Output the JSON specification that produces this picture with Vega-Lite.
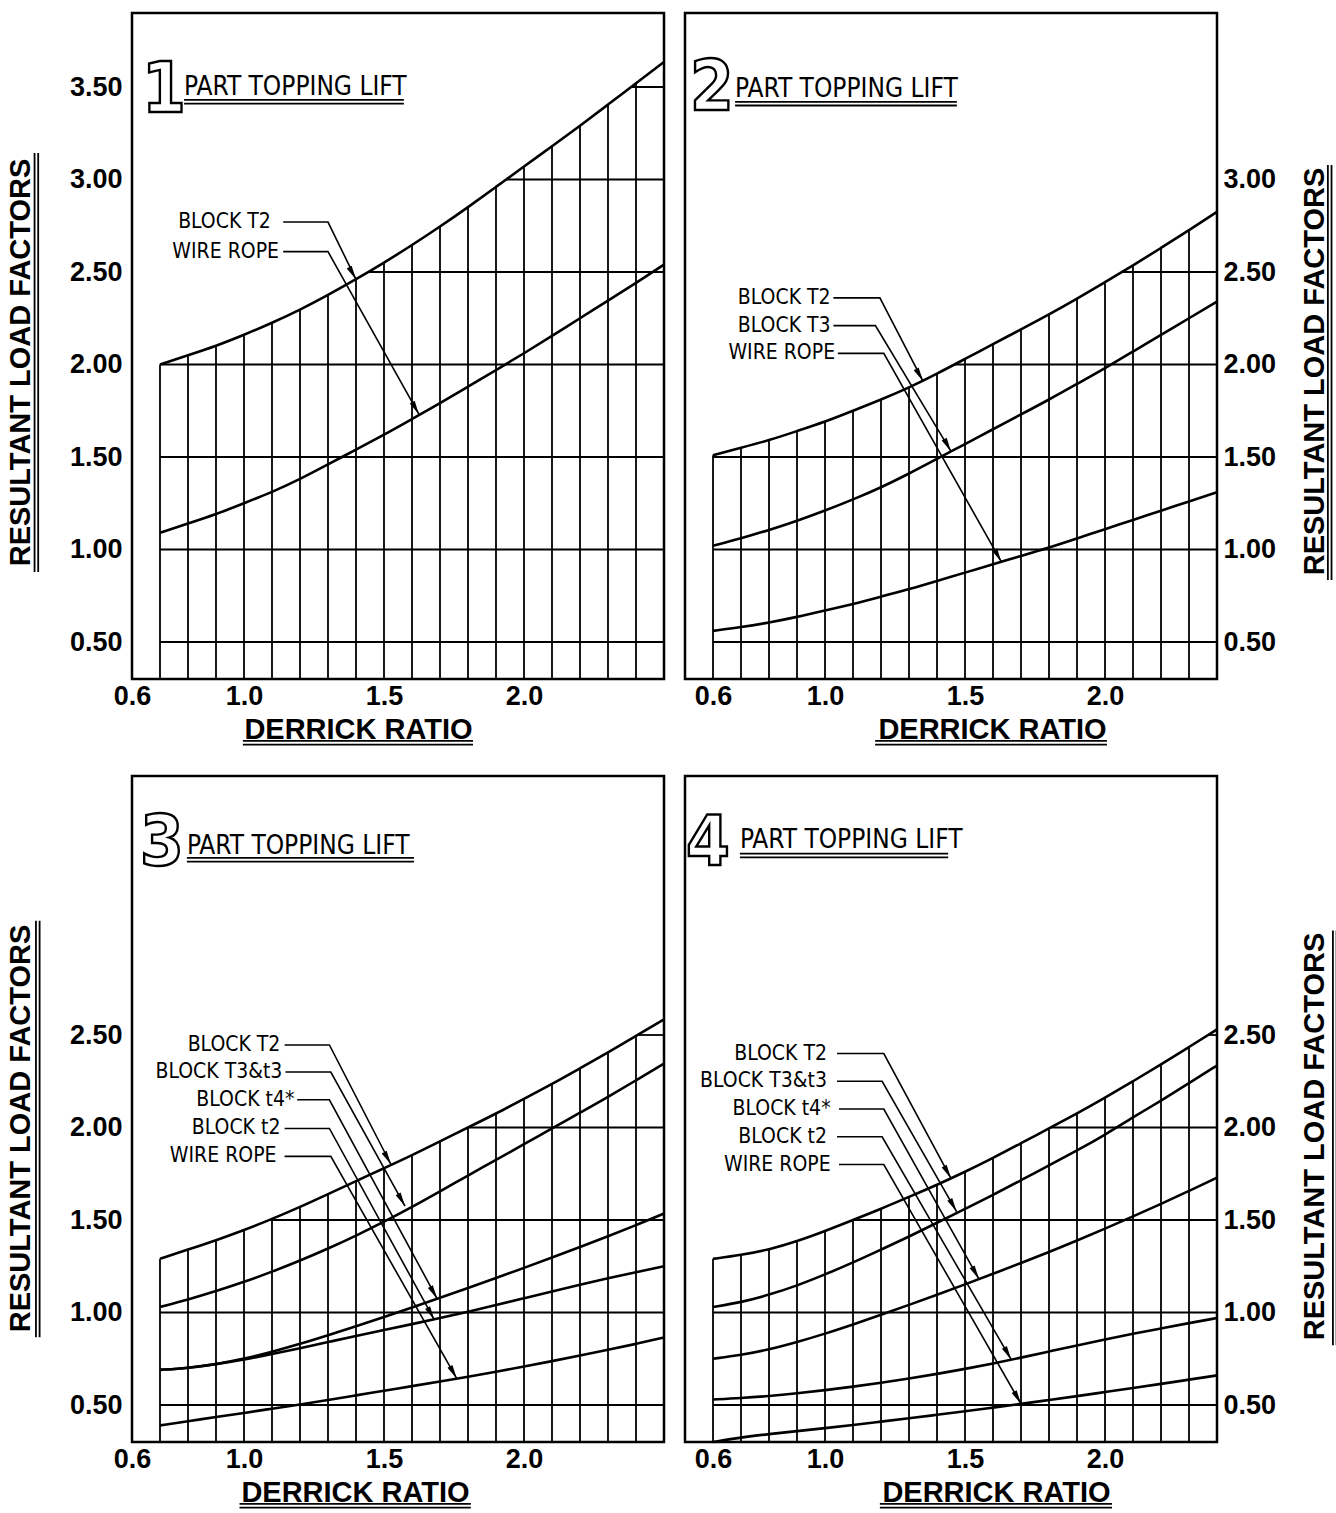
{
"$schema": "https://vega.github.io/schema/vega-lite/v6.json",
"background": "white",
"padding": {"left": 4, "top": 11, "right": 5, "bottom": 5},
"datasets": {
"curves": [
{"panel":1,"series":"T2","x":0.7,"y":2.00},{"panel":1,"series":"T2","x":0.8,"y":2.05},{"panel":1,"series":"T2","x":0.9,"y":2.10},{"panel":1,"series":"T2","x":1.0,"y":2.16},{"panel":1,"series":"T2","x":1.1,"y":2.225},{"panel":1,"series":"T2","x":1.2,"y":2.295},{"panel":1,"series":"T2","x":1.3,"y":2.375},{"panel":1,"series":"T2","x":1.4,"y":2.46},{"panel":1,"series":"T2","x":1.5,"y":2.55},{"panel":1,"series":"T2","x":1.6,"y":2.645},{"panel":1,"series":"T2","x":1.7,"y":2.745},{"panel":1,"series":"T2","x":1.8,"y":2.85},{"panel":1,"series":"T2","x":1.9,"y":2.96},{"panel":1,"series":"T2","x":2.0,"y":3.07},{"panel":1,"series":"T2","x":2.1,"y":3.18},{"panel":1,"series":"T2","x":2.2,"y":3.29},{"panel":1,"series":"T2","x":2.3,"y":3.405},{"panel":1,"series":"T2","x":2.4,"y":3.52},{"panel":1,"series":"T2","x":2.5,"y":3.635},
{"panel":1,"series":"W","x":0.7,"y":1.09},{"panel":1,"series":"W","x":0.8,"y":1.14},{"panel":1,"series":"W","x":0.9,"y":1.19},{"panel":1,"series":"W","x":1.0,"y":1.25},{"panel":1,"series":"W","x":1.1,"y":1.31},{"panel":1,"series":"W","x":1.2,"y":1.38},{"panel":1,"series":"W","x":1.3,"y":1.46},{"panel":1,"series":"W","x":1.4,"y":1.54},{"panel":1,"series":"W","x":1.5,"y":1.62},{"panel":1,"series":"W","x":1.6,"y":1.705},{"panel":1,"series":"W","x":1.7,"y":1.79},{"panel":1,"series":"W","x":1.8,"y":1.88},{"panel":1,"series":"W","x":1.9,"y":1.97},{"panel":1,"series":"W","x":2.0,"y":2.06},{"panel":1,"series":"W","x":2.1,"y":2.155},{"panel":1,"series":"W","x":2.2,"y":2.25},{"panel":1,"series":"W","x":2.3,"y":2.345},{"panel":1,"series":"W","x":2.4,"y":2.44},{"panel":1,"series":"W","x":2.5,"y":2.54},
{"panel":2,"series":"T2","x":0.6,"y":1.51},{"panel":2,"series":"T2","x":0.7,"y":1.55},{"panel":2,"series":"T2","x":0.8,"y":1.59},{"panel":2,"series":"T2","x":0.9,"y":1.64},{"panel":2,"series":"T2","x":1.0,"y":1.69},{"panel":2,"series":"T2","x":1.1,"y":1.75},{"panel":2,"series":"T2","x":1.2,"y":1.81},{"panel":2,"series":"T2","x":1.3,"y":1.875},{"panel":2,"series":"T2","x":1.4,"y":1.95},{"panel":2,"series":"T2","x":1.5,"y":2.03},{"panel":2,"series":"T2","x":1.6,"y":2.11},{"panel":2,"series":"T2","x":1.7,"y":2.19},{"panel":2,"series":"T2","x":1.8,"y":2.27},{"panel":2,"series":"T2","x":1.9,"y":2.355},{"panel":2,"series":"T2","x":2.0,"y":2.445},{"panel":2,"series":"T2","x":2.1,"y":2.535},{"panel":2,"series":"T2","x":2.2,"y":2.63},{"panel":2,"series":"T2","x":2.3,"y":2.725},{"panel":2,"series":"T2","x":2.4,"y":2.825},
{"panel":2,"series":"T3","x":0.6,"y":1.02},{"panel":2,"series":"T3","x":0.7,"y":1.06},{"panel":2,"series":"T3","x":0.8,"y":1.105},{"panel":2,"series":"T3","x":0.9,"y":1.155},{"panel":2,"series":"T3","x":1.0,"y":1.21},{"panel":2,"series":"T3","x":1.1,"y":1.27},{"panel":2,"series":"T3","x":1.2,"y":1.335},{"panel":2,"series":"T3","x":1.3,"y":1.41},{"panel":2,"series":"T3","x":1.4,"y":1.49},{"panel":2,"series":"T3","x":1.5,"y":1.57},{"panel":2,"series":"T3","x":1.6,"y":1.65},{"panel":2,"series":"T3","x":1.7,"y":1.73},{"panel":2,"series":"T3","x":1.8,"y":1.81},{"panel":2,"series":"T3","x":1.9,"y":1.895},{"panel":2,"series":"T3","x":2.0,"y":1.98},{"panel":2,"series":"T3","x":2.1,"y":2.07},{"panel":2,"series":"T3","x":2.2,"y":2.16},{"panel":2,"series":"T3","x":2.3,"y":2.25},{"panel":2,"series":"T3","x":2.4,"y":2.34},
{"panel":2,"series":"W","x":0.6,"y":0.56},{"panel":2,"series":"W","x":0.7,"y":0.58},{"panel":2,"series":"W","x":0.8,"y":0.605},{"panel":2,"series":"W","x":0.9,"y":0.635},{"panel":2,"series":"W","x":1.0,"y":0.67},{"panel":2,"series":"W","x":1.1,"y":0.705},{"panel":2,"series":"W","x":1.2,"y":0.745},{"panel":2,"series":"W","x":1.3,"y":0.785},{"panel":2,"series":"W","x":1.4,"y":0.83},{"panel":2,"series":"W","x":1.5,"y":0.875},{"panel":2,"series":"W","x":1.6,"y":0.92},{"panel":2,"series":"W","x":1.7,"y":0.965},{"panel":2,"series":"W","x":1.8,"y":1.01},{"panel":2,"series":"W","x":1.9,"y":1.06},{"panel":2,"series":"W","x":2.0,"y":1.11},{"panel":2,"series":"W","x":2.1,"y":1.16},{"panel":2,"series":"W","x":2.2,"y":1.21},{"panel":2,"series":"W","x":2.3,"y":1.26},{"panel":2,"series":"W","x":2.4,"y":1.31},
{"panel":3,"series":"T2","x":0.7,"y":1.29},{"panel":3,"series":"T2","x":0.8,"y":1.34},{"panel":3,"series":"T2","x":0.9,"y":1.39},{"panel":3,"series":"T2","x":1.0,"y":1.445},{"panel":3,"series":"T2","x":1.1,"y":1.505},{"panel":3,"series":"T2","x":1.2,"y":1.57},{"panel":3,"series":"T2","x":1.3,"y":1.64},{"panel":3,"series":"T2","x":1.4,"y":1.71},{"panel":3,"series":"T2","x":1.5,"y":1.78},{"panel":3,"series":"T2","x":1.6,"y":1.85},{"panel":3,"series":"T2","x":1.7,"y":1.925},{"panel":3,"series":"T2","x":1.8,"y":2.00},{"panel":3,"series":"T2","x":1.9,"y":2.075},{"panel":3,"series":"T2","x":2.0,"y":2.155},{"panel":3,"series":"T2","x":2.1,"y":2.235},{"panel":3,"series":"T2","x":2.2,"y":2.32},{"panel":3,"series":"T2","x":2.3,"y":2.405},{"panel":3,"series":"T2","x":2.4,"y":2.495},{"panel":3,"series":"T2","x":2.5,"y":2.585},
{"panel":3,"series":"T3","x":0.7,"y":1.03},{"panel":3,"series":"T3","x":0.8,"y":1.07},{"panel":3,"series":"T3","x":0.9,"y":1.115},{"panel":3,"series":"T3","x":1.0,"y":1.165},{"panel":3,"series":"T3","x":1.1,"y":1.22},{"panel":3,"series":"T3","x":1.2,"y":1.28},{"panel":3,"series":"T3","x":1.3,"y":1.345},{"panel":3,"series":"T3","x":1.4,"y":1.415},{"panel":3,"series":"T3","x":1.5,"y":1.49},{"panel":3,"series":"T3","x":1.6,"y":1.57},{"panel":3,"series":"T3","x":1.7,"y":1.655},{"panel":3,"series":"T3","x":1.8,"y":1.74},{"panel":3,"series":"T3","x":1.9,"y":1.825},{"panel":3,"series":"T3","x":2.0,"y":1.91},{"panel":3,"series":"T3","x":2.1,"y":1.995},{"panel":3,"series":"T3","x":2.2,"y":2.08},{"panel":3,"series":"T3","x":2.3,"y":2.165},{"panel":3,"series":"T3","x":2.4,"y":2.255},{"panel":3,"series":"T3","x":2.5,"y":2.345},
{"panel":3,"series":"t4","x":0.7,"y":0.69},{"panel":3,"series":"t4","x":0.8,"y":0.70},{"panel":3,"series":"t4","x":0.9,"y":0.72},{"panel":3,"series":"t4","x":1.0,"y":0.75},{"panel":3,"series":"t4","x":1.1,"y":0.787},{"panel":3,"series":"t4","x":1.2,"y":0.83},{"panel":3,"series":"t4","x":1.3,"y":0.877},{"panel":3,"series":"t4","x":1.4,"y":0.926},{"panel":3,"series":"t4","x":1.5,"y":0.976},{"panel":3,"series":"t4","x":1.6,"y":1.027},{"panel":3,"series":"t4","x":1.7,"y":1.079},{"panel":3,"series":"t4","x":1.8,"y":1.132},{"panel":3,"series":"t4","x":1.9,"y":1.186},{"panel":3,"series":"t4","x":2.0,"y":1.241},{"panel":3,"series":"t4","x":2.1,"y":1.297},{"panel":3,"series":"t4","x":2.2,"y":1.354},{"panel":3,"series":"t4","x":2.3,"y":1.412},{"panel":3,"series":"t4","x":2.4,"y":1.472},{"panel":3,"series":"t4","x":2.5,"y":1.535},
{"panel":3,"series":"t2","x":0.7,"y":0.69},{"panel":3,"series":"t2","x":0.8,"y":0.70},{"panel":3,"series":"t2","x":0.9,"y":0.72},{"panel":3,"series":"t2","x":1.0,"y":0.745},{"panel":3,"series":"t2","x":1.1,"y":0.775},{"panel":3,"series":"t2","x":1.2,"y":0.807},{"panel":3,"series":"t2","x":1.3,"y":0.84},{"panel":3,"series":"t2","x":1.4,"y":0.873},{"panel":3,"series":"t2","x":1.5,"y":0.905},{"panel":3,"series":"t2","x":1.6,"y":0.937},{"panel":3,"series":"t2","x":1.7,"y":0.97},{"panel":3,"series":"t2","x":1.8,"y":1.004},{"panel":3,"series":"t2","x":1.9,"y":1.04},{"panel":3,"series":"t2","x":2.0,"y":1.077},{"panel":3,"series":"t2","x":2.1,"y":1.114},{"panel":3,"series":"t2","x":2.2,"y":1.15},{"panel":3,"series":"t2","x":2.3,"y":1.185},{"panel":3,"series":"t2","x":2.4,"y":1.218},{"panel":3,"series":"t2","x":2.5,"y":1.25},
{"panel":3,"series":"W","x":0.7,"y":0.39},{"panel":3,"series":"W","x":0.8,"y":0.412},{"panel":3,"series":"W","x":0.9,"y":0.435},{"panel":3,"series":"W","x":1.0,"y":0.457},{"panel":3,"series":"W","x":1.1,"y":0.48},{"panel":3,"series":"W","x":1.2,"y":0.503},{"panel":3,"series":"W","x":1.3,"y":0.527},{"panel":3,"series":"W","x":1.4,"y":0.552},{"panel":3,"series":"W","x":1.5,"y":0.577},{"panel":3,"series":"W","x":1.6,"y":0.602},{"panel":3,"series":"W","x":1.7,"y":0.627},{"panel":3,"series":"W","x":1.8,"y":0.653},{"panel":3,"series":"W","x":1.9,"y":0.68},{"panel":3,"series":"W","x":2.0,"y":0.708},{"panel":3,"series":"W","x":2.1,"y":0.737},{"panel":3,"series":"W","x":2.2,"y":0.767},{"panel":3,"series":"W","x":2.3,"y":0.798},{"panel":3,"series":"W","x":2.4,"y":0.83},{"panel":3,"series":"W","x":2.5,"y":0.865},
{"panel":4,"series":"T2","x":0.6,"y":1.29},{"panel":4,"series":"T2","x":0.7,"y":1.31},{"panel":4,"series":"T2","x":0.8,"y":1.34},{"panel":4,"series":"T2","x":0.9,"y":1.385},{"panel":4,"series":"T2","x":1.0,"y":1.44},{"panel":4,"series":"T2","x":1.1,"y":1.50},{"panel":4,"series":"T2","x":1.2,"y":1.56},{"panel":4,"series":"T2","x":1.3,"y":1.625},{"panel":4,"series":"T2","x":1.4,"y":1.69},{"panel":4,"series":"T2","x":1.5,"y":1.76},{"panel":4,"series":"T2","x":1.6,"y":1.835},{"panel":4,"series":"T2","x":1.7,"y":1.915},{"panel":4,"series":"T2","x":1.8,"y":1.995},{"panel":4,"series":"T2","x":1.9,"y":2.075},{"panel":4,"series":"T2","x":2.0,"y":2.16},{"panel":4,"series":"T2","x":2.1,"y":2.25},{"panel":4,"series":"T2","x":2.2,"y":2.34},{"panel":4,"series":"T2","x":2.3,"y":2.435},{"panel":4,"series":"T2","x":2.4,"y":2.53},
{"panel":4,"series":"T3","x":0.6,"y":1.03},{"panel":4,"series":"T3","x":0.7,"y":1.055},{"panel":4,"series":"T3","x":0.8,"y":1.095},{"panel":4,"series":"T3","x":0.9,"y":1.145},{"panel":4,"series":"T3","x":1.0,"y":1.205},{"panel":4,"series":"T3","x":1.1,"y":1.27},{"panel":4,"series":"T3","x":1.2,"y":1.34},{"panel":4,"series":"T3","x":1.3,"y":1.41},{"panel":4,"series":"T3","x":1.4,"y":1.485},{"panel":4,"series":"T3","x":1.5,"y":1.56},{"panel":4,"series":"T3","x":1.6,"y":1.635},{"panel":4,"series":"T3","x":1.7,"y":1.715},{"panel":4,"series":"T3","x":1.8,"y":1.795},{"panel":4,"series":"T3","x":1.9,"y":1.875},{"panel":4,"series":"T3","x":2.0,"y":1.96},{"panel":4,"series":"T3","x":2.1,"y":2.055},{"panel":4,"series":"T3","x":2.2,"y":2.145},{"panel":4,"series":"T3","x":2.3,"y":2.24},{"panel":4,"series":"T3","x":2.4,"y":2.335},
{"panel":4,"series":"t4","x":0.6,"y":0.75},{"panel":4,"series":"t4","x":0.7,"y":0.77},{"panel":4,"series":"t4","x":0.8,"y":0.80},{"panel":4,"series":"t4","x":0.9,"y":0.84},{"panel":4,"series":"t4","x":1.0,"y":0.885},{"panel":4,"series":"t4","x":1.1,"y":0.935},{"panel":4,"series":"t4","x":1.2,"y":0.987},{"panel":4,"series":"t4","x":1.3,"y":1.041},{"panel":4,"series":"t4","x":1.4,"y":1.096},{"panel":4,"series":"t4","x":1.5,"y":1.152},{"panel":4,"series":"t4","x":1.6,"y":1.209},{"panel":4,"series":"t4","x":1.7,"y":1.267},{"panel":4,"series":"t4","x":1.8,"y":1.327},{"panel":4,"series":"t4","x":1.9,"y":1.389},{"panel":4,"series":"t4","x":2.0,"y":1.453},{"panel":4,"series":"t4","x":2.1,"y":1.519},{"panel":4,"series":"t4","x":2.2,"y":1.587},{"panel":4,"series":"t4","x":2.3,"y":1.657},{"panel":4,"series":"t4","x":2.4,"y":1.729},
{"panel":4,"series":"t2","x":0.6,"y":0.53},{"panel":4,"series":"t2","x":0.7,"y":0.537},{"panel":4,"series":"t2","x":0.8,"y":0.548},{"panel":4,"series":"t2","x":0.9,"y":0.563},{"panel":4,"series":"t2","x":1.0,"y":0.58},{"panel":4,"series":"t2","x":1.1,"y":0.599},{"panel":4,"series":"t2","x":1.2,"y":0.62},{"panel":4,"series":"t2","x":1.3,"y":0.643},{"panel":4,"series":"t2","x":1.4,"y":0.668},{"panel":4,"series":"t2","x":1.5,"y":0.695},{"panel":4,"series":"t2","x":1.6,"y":0.724},{"panel":4,"series":"t2","x":1.7,"y":0.756},{"panel":4,"series":"t2","x":1.8,"y":0.789},{"panel":4,"series":"t2","x":1.9,"y":0.822},{"panel":4,"series":"t2","x":2.0,"y":0.854},{"panel":4,"series":"t2","x":2.1,"y":0.885},{"panel":4,"series":"t2","x":2.2,"y":0.914},{"panel":4,"series":"t2","x":2.3,"y":0.943},{"panel":4,"series":"t2","x":2.4,"y":0.97},
{"panel":4,"series":"W","x":0.6,"y":0.30},{"panel":4,"series":"W","x":0.7,"y":0.325},{"panel":4,"series":"W","x":0.8,"y":0.343},{"panel":4,"series":"W","x":0.9,"y":0.359},{"panel":4,"series":"W","x":1.0,"y":0.375},{"panel":4,"series":"W","x":1.1,"y":0.392},{"panel":4,"series":"W","x":1.2,"y":0.41},{"panel":4,"series":"W","x":1.3,"y":0.428},{"panel":4,"series":"W","x":1.4,"y":0.447},{"panel":4,"series":"W","x":1.5,"y":0.466},{"panel":4,"series":"W","x":1.6,"y":0.486},{"panel":4,"series":"W","x":1.7,"y":0.506},{"panel":4,"series":"W","x":1.8,"y":0.527},{"panel":4,"series":"W","x":1.9,"y":0.548},{"panel":4,"series":"W","x":2.0,"y":0.57},{"panel":4,"series":"W","x":2.1,"y":0.592},{"panel":4,"series":"W","x":2.2,"y":0.614},{"panel":4,"series":"W","x":2.3,"y":0.637},{"panel":4,"series":"W","x":2.4,"y":0.66}
],
"vgrid": [
{"panel":1,"x":0.7,"ytop":2.00},{"panel":1,"x":0.8,"ytop":2.05},{"panel":1,"x":0.9,"ytop":2.10},{"panel":1,"x":1.0,"ytop":2.16},{"panel":1,"x":1.1,"ytop":2.225},{"panel":1,"x":1.2,"ytop":2.295},{"panel":1,"x":1.3,"ytop":2.375},{"panel":1,"x":1.4,"ytop":2.46},{"panel":1,"x":1.5,"ytop":2.55},{"panel":1,"x":1.6,"ytop":2.645},{"panel":1,"x":1.7,"ytop":2.745},{"panel":1,"x":1.8,"ytop":2.85},{"panel":1,"x":1.9,"ytop":2.96},{"panel":1,"x":2.0,"ytop":3.07},{"panel":1,"x":2.1,"ytop":3.18},{"panel":1,"x":2.2,"ytop":3.29},{"panel":1,"x":2.3,"ytop":3.405},{"panel":1,"x":2.4,"ytop":3.52},
{"panel":2,"x":0.6,"ytop":1.51},{"panel":2,"x":0.7,"ytop":1.55},{"panel":2,"x":0.8,"ytop":1.59},{"panel":2,"x":0.9,"ytop":1.64},{"panel":2,"x":1.0,"ytop":1.69},{"panel":2,"x":1.1,"ytop":1.75},{"panel":2,"x":1.2,"ytop":1.81},{"panel":2,"x":1.3,"ytop":1.875},{"panel":2,"x":1.4,"ytop":1.95},{"panel":2,"x":1.5,"ytop":2.03},{"panel":2,"x":1.6,"ytop":2.11},{"panel":2,"x":1.7,"ytop":2.19},{"panel":2,"x":1.8,"ytop":2.27},{"panel":2,"x":1.9,"ytop":2.355},{"panel":2,"x":2.0,"ytop":2.445},{"panel":2,"x":2.1,"ytop":2.535},{"panel":2,"x":2.2,"ytop":2.63},{"panel":2,"x":2.3,"ytop":2.725},
{"panel":3,"x":0.7,"ytop":1.29},{"panel":3,"x":0.8,"ytop":1.34},{"panel":3,"x":0.9,"ytop":1.39},{"panel":3,"x":1.0,"ytop":1.445},{"panel":3,"x":1.1,"ytop":1.505},{"panel":3,"x":1.2,"ytop":1.57},{"panel":3,"x":1.3,"ytop":1.64},{"panel":3,"x":1.4,"ytop":1.71},{"panel":3,"x":1.5,"ytop":1.78},{"panel":3,"x":1.6,"ytop":1.85},{"panel":3,"x":1.7,"ytop":1.925},{"panel":3,"x":1.8,"ytop":2.00},{"panel":3,"x":1.9,"ytop":2.075},{"panel":3,"x":2.0,"ytop":2.155},{"panel":3,"x":2.1,"ytop":2.235},{"panel":3,"x":2.2,"ytop":2.32},{"panel":3,"x":2.3,"ytop":2.405},{"panel":3,"x":2.4,"ytop":2.495},
{"panel":4,"x":0.6,"ytop":1.29},{"panel":4,"x":0.7,"ytop":1.31},{"panel":4,"x":0.8,"ytop":1.34},{"panel":4,"x":0.9,"ytop":1.385},{"panel":4,"x":1.0,"ytop":1.44},{"panel":4,"x":1.1,"ytop":1.50},{"panel":4,"x":1.2,"ytop":1.56},{"panel":4,"x":1.3,"ytop":1.625},{"panel":4,"x":1.4,"ytop":1.69},{"panel":4,"x":1.5,"ytop":1.76},{"panel":4,"x":1.6,"ytop":1.835},{"panel":4,"x":1.7,"ytop":1.915},{"panel":4,"x":1.8,"ytop":1.995},{"panel":4,"x":1.9,"ytop":2.075},{"panel":4,"x":2.0,"ytop":2.16},{"panel":4,"x":2.1,"ytop":2.25},{"panel":4,"x":2.2,"ytop":2.34},{"panel":4,"x":2.3,"ytop":2.435}
],
"hgrid": [
{"panel":1,"y":0.5,"x":0.7},{"panel":1,"y":1.0,"x":0.7},{"panel":1,"y":1.5,"x":0.7},{"panel":1,"y":2.0,"x":0.7},{"panel":1,"y":2.5,"x":1.443},{"panel":1,"y":3.0,"x":1.936},{"panel":1,"y":3.5,"x":2.383},
{"panel":2,"y":0.5,"x":0.6},{"panel":2,"y":1.0,"x":0.6},{"panel":2,"y":1.5,"x":0.6},{"panel":2,"y":2.0,"x":1.462},{"panel":2,"y":2.5,"x":2.061},
{"panel":3,"y":0.5,"x":0.7},{"panel":3,"y":1.0,"x":0.7},{"panel":3,"y":1.5,"x":1.092},{"panel":3,"y":2.0,"x":1.8},{"panel":3,"y":2.5,"x":2.405},
{"panel":4,"y":0.5,"x":0.6},{"panel":4,"y":1.0,"x":0.6},{"panel":4,"y":1.5,"x":1.1},{"panel":4,"y":2.0,"x":1.806},{"panel":4,"y":2.5,"x":2.368}
],
"leaders": [
{"panel":1,"label":"BLOCK T2","step":1,"x":1.14,"y":2.77},{"panel":1,"label":"BLOCK T2","step":2,"x":1.30,"y":2.77},{"panel":1,"label":"BLOCK T2","step":3,"x":1.40,"y":2.46},
{"panel":1,"label":"WIRE ROPE","step":1,"x":1.14,"y":2.61},{"panel":1,"label":"WIRE ROPE","step":2,"x":1.30,"y":2.61},{"panel":1,"label":"WIRE ROPE","step":3,"x":1.625,"y":1.73},
{"panel":2,"label":"BLOCK T2","step":1,"x":1.03,"y":2.36},{"panel":2,"label":"BLOCK T2","step":2,"x":1.196,"y":2.36},{"panel":2,"label":"BLOCK T2","step":3,"x":1.35,"y":1.91},
{"panel":2,"label":"BLOCK T3","step":1,"x":1.03,"y":2.21},{"panel":2,"label":"BLOCK T3","step":2,"x":1.18,"y":2.21},{"panel":2,"label":"BLOCK T3","step":3,"x":1.45,"y":1.53},
{"panel":2,"label":"WIRE ROPE","step":1,"x":1.046,"y":2.06},{"panel":2,"label":"WIRE ROPE","step":2,"x":1.21,"y":2.06},{"panel":2,"label":"WIRE ROPE","step":3,"x":1.63,"y":0.933},
{"panel":3,"label":"BLOCK T2","step":1,"x":1.145,"y":2.446},{"panel":3,"label":"BLOCK T2","step":2,"x":1.305,"y":2.446},{"panel":3,"label":"BLOCK T2","step":3,"x":1.525,"y":1.80},
{"panel":3,"label":"BLOCK T3&t3","step":1,"x":1.148,"y":2.30},{"panel":3,"label":"BLOCK T3&t3","step":2,"x":1.31,"y":2.30},{"panel":3,"label":"BLOCK T3&t3","step":3,"x":1.575,"y":1.575},
{"panel":3,"label":"BLOCK t4*","step":1,"x":1.19,"y":2.15},{"panel":3,"label":"BLOCK t4*","step":2,"x":1.305,"y":2.15},{"panel":3,"label":"BLOCK t4*","step":3,"x":1.69,"y":1.074},
{"panel":3,"label":"BLOCK t2","step":1,"x":1.145,"y":1.995},{"panel":3,"label":"BLOCK t2","step":2,"x":1.305,"y":1.995},{"panel":3,"label":"BLOCK t2","step":3,"x":1.68,"y":0.96},
{"panel":3,"label":"WIRE ROPE","step":1,"x":1.145,"y":1.844},{"panel":3,"label":"WIRE ROPE","step":2,"x":1.31,"y":1.844},{"panel":3,"label":"WIRE ROPE","step":3,"x":1.76,"y":0.643},
{"panel":4,"label":"BLOCK T2","step":1,"x":1.043,"y":2.40},{"panel":4,"label":"BLOCK T2","step":2,"x":1.21,"y":2.40},{"panel":4,"label":"BLOCK T2","step":3,"x":1.45,"y":1.725},
{"panel":4,"label":"BLOCK T3&t3","step":1,"x":1.043,"y":2.25},{"panel":4,"label":"BLOCK T3&t3","step":2,"x":1.204,"y":2.25},{"panel":4,"label":"BLOCK T3&t3","step":3,"x":1.47,"y":1.545},
{"panel":4,"label":"BLOCK t4*","step":1,"x":1.05,"y":2.10},{"panel":4,"label":"BLOCK t4*","step":2,"x":1.21,"y":2.10},{"panel":4,"label":"BLOCK t4*","step":3,"x":1.55,"y":1.18},
{"panel":4,"label":"BLOCK t2","step":1,"x":1.043,"y":1.95},{"panel":4,"label":"BLOCK t2","step":2,"x":1.204,"y":1.95},{"panel":4,"label":"BLOCK t2","step":3,"x":1.665,"y":0.745},
{"panel":4,"label":"WIRE ROPE","step":1,"x":1.05,"y":1.80},{"panel":4,"label":"WIRE ROPE","step":2,"x":1.21,"y":1.80},{"panel":4,"label":"WIRE ROPE","step":3,"x":1.70,"y":0.506}
],
"notes": [
{"panel":1,"text":"BLOCK T2","x":1.096,"y":2.77},{"panel":1,"text":"WIRE ROPE","x":1.125,"y":2.61},
{"panel":2,"text":"BLOCK T2","x":1.02,"y":2.36},{"panel":2,"text":"BLOCK T3","x":1.02,"y":2.21},{"panel":2,"text":"WIRE ROPE","x":1.036,"y":2.06},
{"panel":3,"text":"BLOCK T2","x":1.13,"y":2.446},{"panel":3,"text":"BLOCK T3&t3","x":1.137,"y":2.30},{"panel":3,"text":"BLOCK t4*","x":1.18,"y":2.15},{"panel":3,"text":"BLOCK t2","x":1.13,"y":1.995},{"panel":3,"text":"WIRE ROPE","x":1.116,"y":1.844},
{"panel":4,"text":"BLOCK T2","x":1.007,"y":2.40},{"panel":4,"text":"BLOCK T3&t3","x":1.007,"y":2.25},{"panel":4,"text":"BLOCK t4*","x":1.02,"y":2.10},{"panel":4,"text":"BLOCK t2","x":1.007,"y":1.95},{"panel":4,"text":"WIRE ROPE","x":1.02,"y":1.80}
],
"heads": [
{"panel":1,"num":"1","nx":0.714,"ny":3.365,"text":"PART TOPPING LIFT","x":0.786,"y":3.457},
{"panel":2,"num":"2","nx":0.596,"ny":3.376,"text":"PART TOPPING LIFT","x":0.679,"y":3.446},
{"panel":3,"num":"3","nx":0.707,"ny":3.42,"text":"PART TOPPING LIFT","x":0.796,"y":3.48},
{"panel":4,"num":"4","nx":0.582,"ny":3.42,"text":"PART TOPPING LIFT","x":0.696,"y":3.51}
],
"ulines": [
{"panel":1,"x":0.786,"x2":1.571,"y":3.43,"y2":3.43},{"panel":1,"x":0.786,"x2":1.571,"y":3.41,"y2":3.41},
{"panel":2,"x":0.679,"x2":1.471,"y":3.42,"y2":3.42},{"panel":2,"x":0.679,"x2":1.471,"y":3.40,"y2":3.40},
{"panel":3,"x":0.796,"x2":1.607,"y":3.457,"y2":3.457},{"panel":3,"x":0.796,"x2":1.607,"y":3.437,"y2":3.437},
{"panel":4,"x":0.696,"x2":1.44,"y":3.48,"y2":3.48},{"panel":4,"x":0.696,"x2":1.44,"y":3.46,"y2":3.46},
{"panel":1,"x":0.996,"x2":1.818,"y":-0.035,"y2":-0.035},{"panel":1,"x":0.996,"x2":1.818,"y":-0.055,"y2":-0.055},
{"panel":2,"x":1.179,"x2":2.007,"y":-0.035,"y2":-0.035},{"panel":2,"x":1.179,"x2":2.007,"y":-0.055,"y2":-0.055},
{"panel":3,"x":0.984,"x2":1.81,"y":-0.035,"y2":-0.035},{"panel":3,"x":0.984,"x2":1.81,"y":-0.055,"y2":-0.055},
{"panel":4,"x":1.196,"x2":2.025,"y":-0.035,"y2":-0.035},{"panel":4,"x":1.196,"x2":2.025,"y":-0.055,"y2":-0.055},
{"panel":1,"x":0.252,"x2":0.252,"y":0.878,"y2":3.143},{"panel":1,"x":0.265,"x2":0.265,"y":0.878,"y2":3.143},
{"panel":2,"x":2.796,"x2":2.796,"y":0.835,"y2":3.078},{"panel":2,"x":2.809,"x2":2.809,"y":0.835,"y2":3.078},
{"panel":3,"x":0.257,"x2":0.257,"y":0.866,"y2":3.118},{"panel":3,"x":0.270,"x2":0.270,"y":0.866,"y2":3.118},
{"panel":4,"x":2.814,"x2":2.814,"y":0.823,"y2":3.065},{"panel":4,"x":2.827,"x2":2.827,"y":0.823,"y2":3.065}
]
},
"concat": [
{
"width": 532, "height": 666,
"encoding": {
"x": {"field": "x", "type": "quantitative", "scale": {"domain": [0.6, 2.5], "nice": false, "zero": false}, "axis": {"values": [0.6, 1.0, 1.5, 2.0], "format": ".1f", "title": "DERRICK RATIO", "titleX": 226, "titleY": 50, "titleBaseline": "middle", "titleAlign": "center"}},
"y": {"field": "y", "type": "quantitative", "scale": {"domain": [0.3, 3.9], "nice": false, "zero": false}, "axis": {"orient": "left", "values": [0.5, 1.0, 1.5, 2.0, 2.5, 3.0, 3.5], "format": ".2f", "title": "RESULTANT LOAD FACTORS", "titleX": -112, "titleY": 349, "titleAngle": 270, "titleBaseline": "middle", "titleAlign": "center"}}
},
"layer": [
{"data": {"name": "vgrid"}, "transform": [{"filter": "datum.panel == 1"}], "mark": {"type": "rule", "color": "black", "strokeWidth": 1.8}, "encoding": {"y": {"field": "ytop", "type": "quantitative"}, "y2": {"datum": 0.3}}},
{"data": {"name": "hgrid"}, "transform": [{"filter": "datum.panel == 1"}], "mark": {"type": "rule", "color": "black", "strokeWidth": 1.8}, "encoding": {"x2": {"datum": 2.5}}},
{"data": {"name": "curves"}, "transform": [{"filter": "datum.panel == 1"}], "mark": {"type": "line", "color": "black", "strokeWidth": 2.6, "interpolate": "basis"}, "encoding": {"detail": {"field": "series"}}},
{"data": {"name": "leaders"}, "transform": [{"filter": "datum.panel == 1"}], "mark": {"type": "line", "color": "black", "strokeWidth": 1.6}, "encoding": {"detail": {"field": "label"}, "order": {"field": "step"}}},
{"data": {"name": "leaders"}, "transform": [{"filter": "datum.panel == 1 && datum.step == 3"}], "mark": {"type": "point", "shape": "M -0.4 -1 L 0.4 -1 L 0 1 Z", "size": 200, "angle": 331, "filled": true, "color": "black", "opacity": 1, "xOffset": -3.4, "yOffset": -6.1}},
{"data": {"name": "notes"}, "transform": [{"filter": "datum.panel == 1"}], "mark": {"type": "text", "align": "right", "baseline": "middle", "font": "Liberation Sans Narrow, DejaVu Sans Condensed, Liberation Sans", "fontSize": 21, "color": "black"}, "encoding": {"text": {"field": "text"}}},
{"data": {"name": "heads"}, "transform": [{"filter": "datum.panel == 1"}], "mark": {"type": "text", "align": "center", "baseline": "alphabetic", "font": "Liberation Sans Narrow, DejaVu Sans Condensed, Liberation Sans", "fontSize": 70, "fontWeight": "bold", "fill": "white", "stroke": "black", "strokeWidth": 2.4}, "encoding": {"x": {"field": "nx", "type": "quantitative"}, "y": {"field": "ny", "type": "quantitative"}, "text": {"field": "num"}}},
{"data": {"name": "heads"}, "transform": [{"filter": "datum.panel == 1"}], "mark": {"type": "text", "align": "left", "baseline": "alphabetic", "font": "Liberation Sans Narrow, DejaVu Sans Condensed, Liberation Sans", "fontSize": 26, "color": "black"}, "encoding": {"text": {"field": "text"}}},
{"data": {"name": "ulines"}, "transform": [{"filter": "datum.panel == 1"}], "mark": {"type": "rule", "color": "black", "strokeWidth": 1.8}, "encoding": {"x2": {"field": "x2"}, "y2": {"field": "y2"}}}
]
},
{
"width": 532, "height": 666,
"encoding": {
"x": {"field": "x", "type": "quantitative", "scale": {"domain": [0.5, 2.4], "nice": false, "zero": false}, "axis": {"values": [0.6, 1.0, 1.5, 2.0], "format": ".1f", "title": "DERRICK RATIO", "titleX": 307, "titleY": 50, "titleBaseline": "middle", "titleAlign": "center"}},
"y": {"field": "y", "type": "quantitative", "scale": {"domain": [0.3, 3.9], "nice": false, "zero": false}, "axis": {"orient": "right", "values": [0.5, 1.0, 1.5, 2.0, 2.5, 3.0], "format": ".2f", "title": "RESULTANT LOAD FACTORS", "titleX": 97, "titleY": 358, "titleAngle": 270, "titleBaseline": "middle", "titleAlign": "center"}}
},
"layer": [
{"data": {"name": "vgrid"}, "transform": [{"filter": "datum.panel == 2"}], "mark": {"type": "rule", "color": "black", "strokeWidth": 1.8}, "encoding": {"y": {"field": "ytop", "type": "quantitative"}, "y2": {"datum": 0.3}}},
{"data": {"name": "hgrid"}, "transform": [{"filter": "datum.panel == 2"}], "mark": {"type": "rule", "color": "black", "strokeWidth": 1.8}, "encoding": {"x2": {"datum": 2.4}}},
{"data": {"name": "curves"}, "transform": [{"filter": "datum.panel == 2"}], "mark": {"type": "line", "color": "black", "strokeWidth": 2.6, "interpolate": "basis"}, "encoding": {"detail": {"field": "series"}}},
{"data": {"name": "leaders"}, "transform": [{"filter": "datum.panel == 2"}], "mark": {"type": "line", "color": "black", "strokeWidth": 1.6}, "encoding": {"detail": {"field": "label"}, "order": {"field": "step"}}},
{"data": {"name": "leaders"}, "transform": [{"filter": "datum.panel == 2 && datum.step == 3"}], "mark": {"type": "point", "shape": "M -0.4 -1 L 0.4 -1 L 0 1 Z", "size": 200, "angle": 331, "filled": true, "color": "black", "opacity": 1, "xOffset": -3.4, "yOffset": -6.1}},
{"data": {"name": "notes"}, "transform": [{"filter": "datum.panel == 2"}], "mark": {"type": "text", "align": "right", "baseline": "middle", "font": "Liberation Sans Narrow, DejaVu Sans Condensed, Liberation Sans", "fontSize": 21, "color": "black"}, "encoding": {"text": {"field": "text"}}},
{"data": {"name": "heads"}, "transform": [{"filter": "datum.panel == 2"}], "mark": {"type": "text", "align": "center", "baseline": "alphabetic", "font": "Liberation Sans Narrow, DejaVu Sans Condensed, Liberation Sans", "fontSize": 70, "fontWeight": "bold", "fill": "white", "stroke": "black", "strokeWidth": 2.4}, "encoding": {"x": {"field": "nx", "type": "quantitative"}, "y": {"field": "ny", "type": "quantitative"}, "text": {"field": "num"}}},
{"data": {"name": "heads"}, "transform": [{"filter": "datum.panel == 2"}], "mark": {"type": "text", "align": "left", "baseline": "alphabetic", "font": "Liberation Sans Narrow, DejaVu Sans Condensed, Liberation Sans", "fontSize": 26, "color": "black"}, "encoding": {"text": {"field": "text"}}},
{"data": {"name": "ulines"}, "transform": [{"filter": "datum.panel == 2"}], "mark": {"type": "rule", "color": "black", "strokeWidth": 1.8}, "encoding": {"x2": {"field": "x2"}, "y2": {"field": "y2"}}}
]
},
{
"width": 532, "height": 666,
"encoding": {
"x": {"field": "x", "type": "quantitative", "scale": {"domain": [0.6, 2.5], "nice": false, "zero": false}, "axis": {"values": [0.6, 1.0, 1.5, 2.0], "format": ".1f", "title": "DERRICK RATIO", "titleX": 223, "titleY": 50, "titleBaseline": "middle", "titleAlign": "center"}},
"y": {"field": "y", "type": "quantitative", "scale": {"domain": [0.3, 3.9], "nice": false, "zero": false}, "axis": {"orient": "left", "values": [0.5, 1.0, 1.5, 2.0, 2.5], "format": ".2f", "title": "RESULTANT LOAD FACTORS", "titleX": -112, "titleY": 352, "titleAngle": 270, "titleBaseline": "middle", "titleAlign": "center"}}
},
"layer": [
{"data": {"name": "vgrid"}, "transform": [{"filter": "datum.panel == 3"}], "mark": {"type": "rule", "color": "black", "strokeWidth": 1.8}, "encoding": {"y": {"field": "ytop", "type": "quantitative"}, "y2": {"datum": 0.3}}},
{"data": {"name": "hgrid"}, "transform": [{"filter": "datum.panel == 3"}], "mark": {"type": "rule", "color": "black", "strokeWidth": 1.8}, "encoding": {"x2": {"datum": 2.5}}},
{"data": {"name": "curves"}, "transform": [{"filter": "datum.panel == 3"}], "mark": {"type": "line", "color": "black", "strokeWidth": 2.6, "interpolate": "basis"}, "encoding": {"detail": {"field": "series"}}},
{"data": {"name": "leaders"}, "transform": [{"filter": "datum.panel == 3"}], "mark": {"type": "line", "color": "black", "strokeWidth": 1.6}, "encoding": {"detail": {"field": "label"}, "order": {"field": "step"}}},
{"data": {"name": "leaders"}, "transform": [{"filter": "datum.panel == 3 && datum.step == 3"}], "mark": {"type": "point", "shape": "M -0.4 -1 L 0.4 -1 L 0 1 Z", "size": 200, "angle": 331, "filled": true, "color": "black", "opacity": 1, "xOffset": -3.4, "yOffset": -6.1}},
{"data": {"name": "notes"}, "transform": [{"filter": "datum.panel == 3"}], "mark": {"type": "text", "align": "right", "baseline": "middle", "font": "Liberation Sans Narrow, DejaVu Sans Condensed, Liberation Sans", "fontSize": 21, "color": "black"}, "encoding": {"text": {"field": "text"}}},
{"data": {"name": "heads"}, "transform": [{"filter": "datum.panel == 3"}], "mark": {"type": "text", "align": "center", "baseline": "alphabetic", "font": "Liberation Sans Narrow, DejaVu Sans Condensed, Liberation Sans", "fontSize": 70, "fontWeight": "bold", "fill": "white", "stroke": "black", "strokeWidth": 2.4}, "encoding": {"x": {"field": "nx", "type": "quantitative"}, "y": {"field": "ny", "type": "quantitative"}, "text": {"field": "num"}}},
{"data": {"name": "heads"}, "transform": [{"filter": "datum.panel == 3"}], "mark": {"type": "text", "align": "left", "baseline": "alphabetic", "font": "Liberation Sans Narrow, DejaVu Sans Condensed, Liberation Sans", "fontSize": 26, "color": "black"}, "encoding": {"text": {"field": "text"}}},
{"data": {"name": "ulines"}, "transform": [{"filter": "datum.panel == 3"}], "mark": {"type": "rule", "color": "black", "strokeWidth": 1.8}, "encoding": {"x2": {"field": "x2"}, "y2": {"field": "y2"}}}
]
},
{
"width": 532, "height": 666,
"encoding": {
"x": {"field": "x", "type": "quantitative", "scale": {"domain": [0.5, 2.4], "nice": false, "zero": false}, "axis": {"values": [0.6, 1.0, 1.5, 2.0], "format": ".1f", "title": "DERRICK RATIO", "titleX": 311, "titleY": 50, "titleBaseline": "middle", "titleAlign": "center"}},
"y": {"field": "y", "type": "quantitative", "scale": {"domain": [0.3, 3.9], "nice": false, "zero": false}, "axis": {"orient": "right", "values": [0.5, 1.0, 1.5, 2.0, 2.5], "format": ".2f", "title": "RESULTANT LOAD FACTORS", "titleX": 97, "titleY": 360, "titleAngle": 270, "titleBaseline": "middle", "titleAlign": "center"}}
},
"layer": [
{"data": {"name": "vgrid"}, "transform": [{"filter": "datum.panel == 4"}], "mark": {"type": "rule", "color": "black", "strokeWidth": 1.8}, "encoding": {"y": {"field": "ytop", "type": "quantitative"}, "y2": {"datum": 0.3}}},
{"data": {"name": "hgrid"}, "transform": [{"filter": "datum.panel == 4"}], "mark": {"type": "rule", "color": "black", "strokeWidth": 1.8}, "encoding": {"x2": {"datum": 2.4}}},
{"data": {"name": "curves"}, "transform": [{"filter": "datum.panel == 4"}], "mark": {"type": "line", "color": "black", "strokeWidth": 2.6, "interpolate": "basis"}, "encoding": {"detail": {"field": "series"}}},
{"data": {"name": "leaders"}, "transform": [{"filter": "datum.panel == 4"}], "mark": {"type": "line", "color": "black", "strokeWidth": 1.6}, "encoding": {"detail": {"field": "label"}, "order": {"field": "step"}}},
{"data": {"name": "leaders"}, "transform": [{"filter": "datum.panel == 4 && datum.step == 3"}], "mark": {"type": "point", "shape": "M -0.4 -1 L 0.4 -1 L 0 1 Z", "size": 200, "angle": 331, "filled": true, "color": "black", "opacity": 1, "xOffset": -3.4, "yOffset": -6.1}},
{"data": {"name": "notes"}, "transform": [{"filter": "datum.panel == 4"}], "mark": {"type": "text", "align": "right", "baseline": "middle", "font": "Liberation Sans Narrow, DejaVu Sans Condensed, Liberation Sans", "fontSize": 21, "color": "black"}, "encoding": {"text": {"field": "text"}}},
{"data": {"name": "heads"}, "transform": [{"filter": "datum.panel == 4"}], "mark": {"type": "text", "align": "center", "baseline": "alphabetic", "font": "Liberation Sans Narrow, DejaVu Sans Condensed, Liberation Sans", "fontSize": 70, "fontWeight": "bold", "fill": "white", "stroke": "black", "strokeWidth": 2.4}, "encoding": {"x": {"field": "nx", "type": "quantitative"}, "y": {"field": "ny", "type": "quantitative"}, "text": {"field": "num"}}},
{"data": {"name": "heads"}, "transform": [{"filter": "datum.panel == 4"}], "mark": {"type": "text", "align": "left", "baseline": "alphabetic", "font": "Liberation Sans Narrow, DejaVu Sans Condensed, Liberation Sans", "fontSize": 26, "color": "black"}, "encoding": {"text": {"field": "text"}}},
{"data": {"name": "ulines"}, "transform": [{"filter": "datum.panel == 4"}], "mark": {"type": "rule", "color": "black", "strokeWidth": 1.8}, "encoding": {"x2": {"field": "x2"}, "y2": {"field": "y2"}}}
]
}
],
"columns": 2,
"spacing": {"row": 97, "column": 21},
"bounds": "flush",
"resolve": {"scale": {"x": "independent", "y": "independent"}, "axis": {"x": "independent", "y": "independent"}},
"config": {
"view": {"stroke": "black", "strokeWidth": 2.5},
"axis": {"grid": false, "ticks": false, "domain": false, "labelFont": "Liberation Sans", "labelFontWeight": "bold", "labelFontSize": 27, "labelColor": "black", "labelFlush": false, "labelOverlap": false, "labelBound": false, "titleFont": "Liberation Sans", "titleFontWeight": "bold", "titleFontSize": 29, "titleColor": "black"},
"axisX": {"labelPadding": 4},
"axisLeft": {"labelPadding": 10},
"axisRight": {"labelPadding": 6}
}
}
